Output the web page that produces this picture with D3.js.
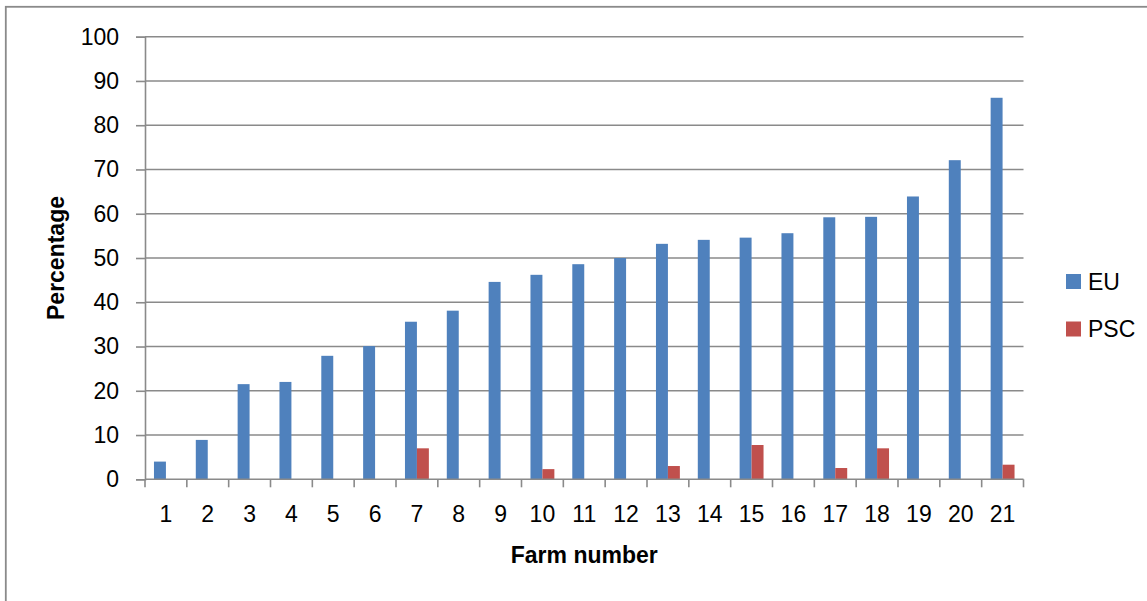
<!DOCTYPE html>
<html>
<head>
<meta charset="utf-8">
<script src="https://cdn.jsdelivr.net/npm/d3@7"></script>
<style>
  html, body { margin: 0; padding: 0; background: #fff; }
  svg { display: block; }
  text { font-family: "Liberation Sans", Arial, sans-serif; fill: #000; }
</style>
</head>
<body>
<svg id="chart" width="1147" height="601"></svg>
<script>
const farms = ["1","2","3","4","5","6","7","8","9","10","11","12","13","14","15","16","17","18","19","20","21"];
const euValues = [4.0, 8.9, 21.5, 22.0, 27.9, 30.1, 35.6, 38.1, 44.6, 46.2, 48.6, 50.0, 53.2, 54.1, 54.6, 55.6, 59.2, 59.3, 63.9, 72.1, 86.2];
const pscValues = [0, 0, 0, 0, 0, 0, 7.0, 0, 0, 2.3, 0, 0, 3.0, 0, 7.75, 0, 2.55, 7.0, 0, 0, 3.3];
const seriesNames = ["EU", "PSC"];
const seriesColors = ["#4F81BD", "#C0504D"];
const yTicks = [0, 10, 20, 30, 40, 50, 60, 70, 80, 90, 100];
const xTitle = "Farm number";
const yTitle = "Percentage";

const svg = d3.select("#chart");
const L = 145, R = 1023.5, T = 36.7, B = 479.3;
const gridColor = "#8a8a8a";

// outer chart border
svg.append("rect")
  .attr("x", 5.8).attr("y", 6.8)
  .attr("width", 1300).attr("height", 800)
  .attr("fill", "none").attr("stroke", "#8a8a8a").attr("stroke-width", 1.8);

const x0 = d3.scaleBand().domain(farms).range([L, R]).padding(0);
const x1 = d3.scaleBand().domain(seriesNames).range([0, x0.bandwidth()]).paddingInner(0).paddingOuter(0.75);
const y = d3.scaleLinear().domain([0, 100]).range([B, T]);

// gridlines
svg.append("g").selectAll("line").data(yTicks.filter(d => d > 0)).join("line")
  .attr("x1", L).attr("x2", R)
  .attr("y1", d => y(d)).attr("y2", d => y(d))
  .attr("stroke", gridColor).attr("stroke-width", 1.6);

// y axis
const yAxis = d3.axisLeft(y).tickValues(yTicks).tickSize(9).tickPadding(17);
const gy = svg.append("g").attr("transform", `translate(${L},0)`).call(yAxis);
gy.select(".domain").attr("stroke", gridColor).attr("stroke-width", 1.6);
gy.selectAll(".tick line").attr("stroke", gridColor).attr("stroke-width", 1.6);
gy.selectAll(".tick text").attr("font-size", "23px").attr("font-family", "Liberation Sans, Arial, sans-serif").attr("fill", "#000");

// bars
const data = farms.map((f, i) => ({ farm: f, values: [euValues[i], pscValues[i]] }));
const groups = svg.append("g").selectAll("g").data(data).join("g")
  .attr("transform", d => `translate(${x0(d.farm)},0)`);
groups.selectAll("rect").data(d => d.values.map((v, j) => ({ key: seriesNames[j], v, j })).filter(e => e.v > 0)).join("rect")
  .attr("x", e => x1(e.key))
  .attr("width", x1.bandwidth())
  .attr("y", e => y(e.v))
  .attr("height", e => y(0) - y(e.v))
  .attr("fill", e => seriesColors[e.j]);

// x axis line and ticks at band boundaries
const gx = svg.append("g");
gx.append("line").attr("x1", L).attr("x2", R).attr("y1", B).attr("y2", B)
  .attr("stroke", gridColor).attr("stroke-width", 1.6);
const boundaries = farms.map(f => x0(f)).concat([x0(farms[farms.length - 1]) + x0.bandwidth()]);
gx.selectAll("line.tk").data(boundaries).join("line").attr("class", "tk")
  .attr("x1", d => d).attr("x2", d => d).attr("y1", B).attr("y2", B + 8)
  .attr("stroke", gridColor).attr("stroke-width", 1.6);
gx.selectAll("text").data(farms).join("text")
  .attr("x", f => x0(f) + x0.bandwidth() / 2)
  .attr("y", 522)
  .attr("text-anchor", "middle")
  .attr("font-size", "23px")
  .text(f => f);

// axis titles
svg.append("text")
  .attr("x", (L + R) / 2).attr("y", 563)
  .attr("text-anchor", "middle")
  .attr("font-size", "23px").attr("font-weight", "bold")
  .text(xTitle);
svg.append("text")
  .attr("transform", `translate(64,${(T + B) / 2}) rotate(-90)`)
  .attr("text-anchor", "middle")
  .attr("font-size", "23px").attr("font-weight", "bold")
  .text(yTitle);

// legend
const legendY = [281.5, 329];
const lg = svg.append("g").selectAll("g").data(seriesNames).join("g")
  .attr("transform", (d, i) => `translate(1066,${legendY[i]})`);
lg.append("rect").attr("x", 0).attr("y", -7.5).attr("width", 15).attr("height", 15)
  .attr("fill", (d, i) => seriesColors[i]);
lg.append("text").attr("x", 22).attr("y", 8).attr("font-size", "23px").text(d => d);
</script>
</body>
</html>
